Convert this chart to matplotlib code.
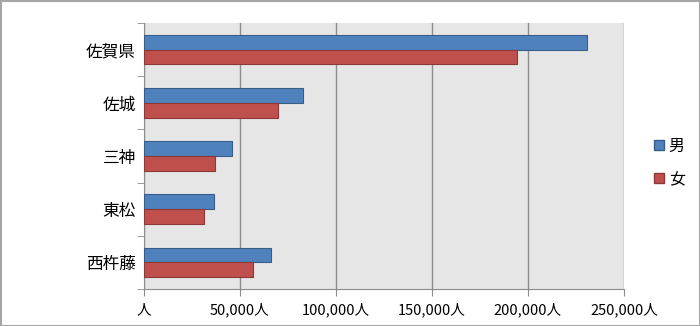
import numpy as np
import matplotlib.pyplot as plt
from matplotlib.patches import Rectangle, Patch
from matplotlib.ticker import FuncFormatter, FixedLocator

plt.rcParams['font.family'] = ['Noto Sans CJK JP', 'DejaVu Sans']

regions = ["佐賀県", "佐城", "三神", "東松", "西杵藤"]
male = [230700, 82600, 45800, 36500, 66200]
female = [194300, 69800, 37000, 31300, 56800]
series_names = ["男", "女"]
xticks = [0, 50000, 100000, 150000, 200000, 250000]

blue, blue_edge = "#4F81BD", "#385D8A"
red, red_edge = "#C0504D", "#8C3836"

fig = plt.figure(figsize=(7, 3.26), dpi=100)
ax = fig.add_axes([144 / 700, 1 - 289 / 326, 480 / 700, 266 / 326])

y = np.arange(len(regions))
h = 0.28
ax.barh(y - h / 2, male, height=h, color=blue, edgecolor=blue_edge, linewidth=0.8, zorder=3)
ax.barh(y + h / 2, female, height=h, color=red, edgecolor=red_edge, linewidth=0.8, zorder=3)

ax.set_facecolor("#E6E6E6")
ax.set_xlim(0, 250000)
ax.set_ylim(len(regions) - 0.5, -0.5)
ax.set_xticks(xticks)
ax.xaxis.set_major_formatter(FuncFormatter(lambda v, p: "人" if v == 0 else f"{int(v):,}人"))
ax.grid(axis="x", color="#8C8C8C", linewidth=1, zorder=1)

ax.set_yticks(y)
ax.set_yticklabels(regions, fontsize=12)
ax.yaxis.set_minor_locator(FixedLocator(np.arange(-0.5, len(regions), 1)))
ax.tick_params(axis="y", which="major", length=0, pad=6)
ax.tick_params(axis="y", which="minor", length=5, color="#8C8C8C")
ax.tick_params(axis="x", length=5, color="#8C8C8C", labelsize=10.5, pad=5)

for s in ["top", "right"]:
    ax.spines[s].set_visible(False)
for s in ["left", "bottom"]:
    ax.spines[s].set_color("#8C8C8C")

handles = [Patch(facecolor=blue, edgecolor=blue_edge), Patch(facecolor=red, edgecolor=red_edge)]
fig.legend(handles, series_names, loc="center left", bbox_to_anchor=(640 / 700, 1 - 163 / 326),
           frameon=False, fontsize=11.5, handlelength=0.6, handleheight=0.6,
           handletextpad=0.3, labelspacing=1.0)

border = Rectangle((0.5 / 700, 0.5 / 326), 699 / 700, 325 / 326, transform=fig.transFigure,
                   facecolor="none", edgecolor="#A6A6A6", linewidth=1.5)
fig.patches.append(border)

fig.savefig("out.png", dpi=100)
